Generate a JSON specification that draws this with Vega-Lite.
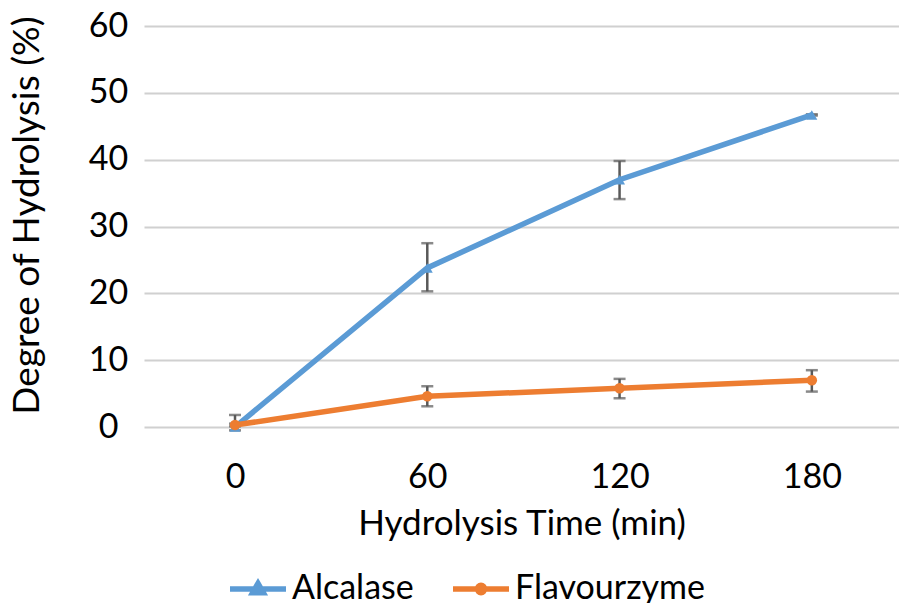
{
  "$schema": "https://vega.github.io/schema/vega-lite/v6.json",
  "width": 755,
  "height": 401,
  "autosize": "none",
  "padding": {"left": 144, "top": 26, "right": 0, "bottom": 176},
  "background": "white",
  "config": {
    "font": "Lato",
    "view": {"stroke": null},
    "axis": {"labelColor": "#000000", "titleColor": "#000000", "labelFont": "Lato", "titleFont": "Lato", "titleFontWeight": "normal"}
  },
  "data": {
    "values": [
      {"time": 0, "enzyme": "Alcalase", "dh": 0.0, "lo": -0.5, "hi": 1.8},
      {"time": 60, "enzyme": "Alcalase", "dh": 23.8, "lo": 20.3, "hi": 27.5},
      {"time": 120, "enzyme": "Alcalase", "dh": 37.0, "lo": 34.1, "hi": 39.8},
      {"time": 180, "enzyme": "Alcalase", "dh": 46.7, "lo": 46.6, "hi": 46.8},
      {"time": 0, "enzyme": "Flavourzyme", "dh": 0.3, "lo": 0.1, "hi": 0.5},
      {"time": 60, "enzyme": "Flavourzyme", "dh": 4.6, "lo": 3.1, "hi": 6.1},
      {"time": 120, "enzyme": "Flavourzyme", "dh": 5.8, "lo": 4.3, "hi": 7.2},
      {"time": 180, "enzyme": "Flavourzyme", "dh": 7.0, "lo": 5.3, "hi": 8.5}
    ]
  },
  "encoding": {
    "x": {
      "field": "time",
      "type": "quantitative",
      "scale": {"domain": [-28.4, 207.2], "nice": false, "zero": false},
      "axis": {
        "values": [0, 60, 120, 180],
        "grid": false,
        "domain": false,
        "ticks": false,
        "labelFontSize": 34,
        "labelPadding": 33,
        "title": "Hydrolysis Time (min)",
        "titleFontSize": 35,
        "titlePadding": 12
      }
    }
  },
  "layer": [
    {
      "mark": {
        "type": "errorbar",
        "color": "#595959",
        "ticks": {"size": 12, "thickness": 2.5, "color": "#595959"},
        "rule": {"strokeWidth": 2.5, "color": "#595959"}
      },
      "encoding": {
        "y": {
          "field": "lo",
          "type": "quantitative",
          "scale": {"domain": [0, 60], "nice": false},
          "axis": {
            "values": [0, 10, 20, 30, 40, 50, 60],
            "grid": true,
            "gridColor": "#d0d0d0",
            "gridWidth": 2,
            "domain": false,
            "ticks": false,
            "labelFontSize": 34,
            "labelAlign": "center",
            "labelBaseline": "middle",
            "labelPadding": 36,
            "title": "Degree of Hydrolysis (%)",
            "titleFontSize": 37,
            "titlePadding": 42,
            "titleY": 189,
            "encode": {
              "labels": {
                "update": {
                  "dy": {"signal": "datum.value == 0 ? -13 : datum.value == 10 ? -14 : datum.value == 20 ? -6 : datum.value == 30 ? -3 : datum.value == 40 ? 3 : datum.value == 50 ? 5 : 3"}
                }
              }
            }
          }
        },
        "y2": {"field": "hi"}
      }
    },
    {
      "mark": {"type": "line", "strokeWidth": 5.5},
      "encoding": {
        "y": {"field": "dh", "type": "quantitative"},
        "color": {
          "field": "enzyme",
          "type": "nominal",
          "scale": {"domain": ["Alcalase", "Flavourzyme"], "range": ["#5B9BD5", "#ED7D31"]},
          "legend": {
            "title": null,
            "orient": "none",
            "legendX": 83,
            "legendY": 532,
            "direction": "horizontal",
            "symbolSize": 3136,
            "symbolStrokeWidth": 5.5,
            "labelFontSize": 34,
            "labelFont": "Lato",
            "labelColor": "#000000",
            "labelLimit": 400,
            "labelOffset": 3,
            "columnPadding": 28,
            "encode": {
              "symbols": {
                "update": {
                  "shape": {"signal": "datum.value === 'Alcalase' ? 'M-1,0L1,0M0,-0.2L0.19,0.13L-0.19,0.13Z' : 'M-1,0L1,0M0.13,0A0.13,0.13,0,1,1,-0.13,0A0.13,0.13,0,1,1,0.13,0Z'"},
                  "fill": {"scale": "color", "field": "value"}
                }
              }
            }
          }
        }
      }
    },
    {
      "transform": [{"filter": "datum.enzyme === 'Alcalase'"}],
      "mark": {"type": "point", "filled": true, "size": 120, "opacity": 1, "shape": "triangle-up"},
      "encoding": {
        "y": {"field": "dh", "type": "quantitative"},
        "color": {"field": "enzyme", "type": "nominal"}
      }
    },
    {
      "transform": [{"filter": "datum.enzyme === 'Flavourzyme'"}],
      "mark": {"type": "point", "filled": true, "size": 110, "opacity": 1, "shape": "circle"},
      "encoding": {
        "y": {"field": "dh", "type": "quantitative"},
        "color": {"field": "enzyme", "type": "nominal"}
      }
    }
  ]
}
